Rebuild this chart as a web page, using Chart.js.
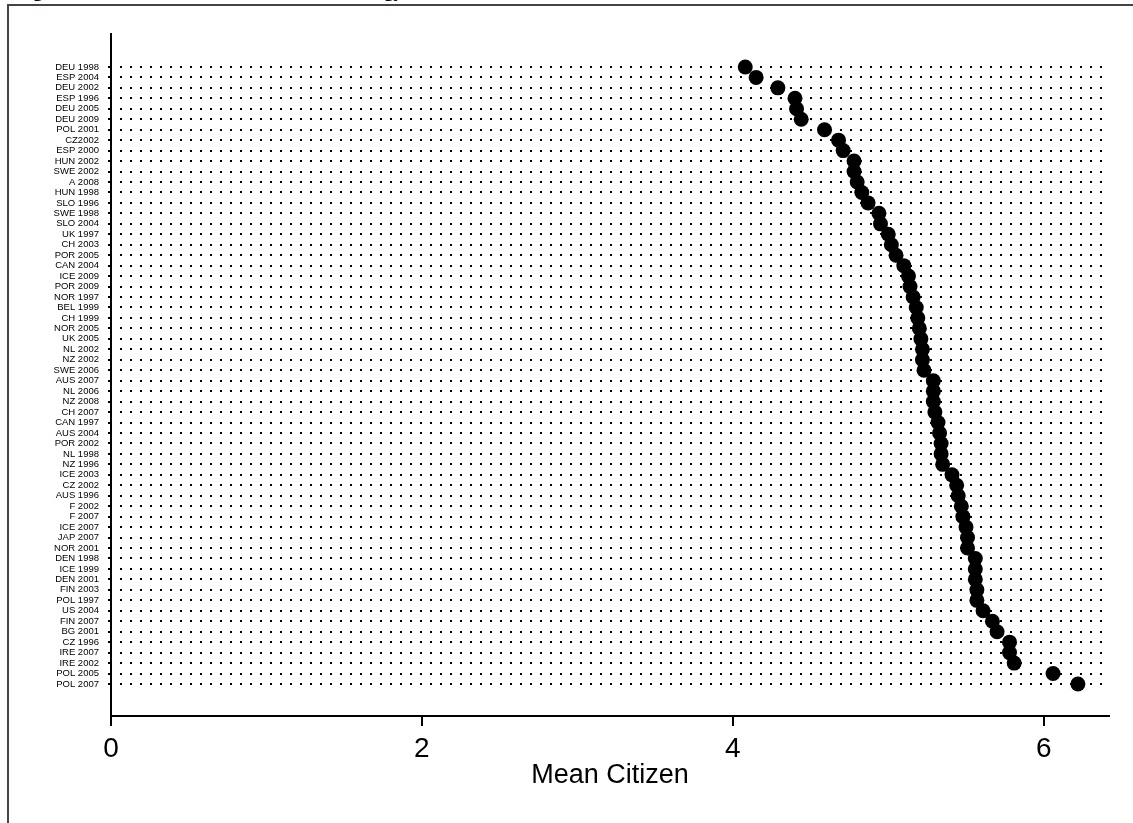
<!DOCTYPE html>
<html>
<head>
<meta charset="utf-8">
<script src="https://cdn.jsdelivr.net/npm/chart.js@4/dist/chart.umd.min.js"></script>
<style>
  html, body { margin: 0; padding: 0; background: #fff; overflow: hidden; }
  #page { position: relative; width: 1133px; height: 823px; overflow: hidden; }
  #frame { position: absolute; left: 7px; top: 4px; width: 1200px; height: 900px;
           border-top: 2px solid #444; border-left: 2px solid #444; }
  #title { position: absolute; left: 16px; top: -20px; line-height: 19px; white-space: nowrap;
           font: bold 19px "Liberation Serif", "Times New Roman", serif; color: #000; }
  #chart { position: absolute; left: 0; top: 0; }
</style>
</head>
<body>
<div id="page">
  <div id="frame"></div>
  <div id="title">Figure 1: Distribution of Mean Citizen Ideology</div>
  <canvas id="chart" width="1133" height="823"></canvas>
</div>
<script>
// --- DATA ---
const rowLabels = [
  "DEU 1998", "ESP 2004", "DEU 2002", "ESP 1996", "DEU 2005", "DEU 2009", "POL 2001", "CZ2002",
  "ESP 2000", "HUN 2002", "SWE 2002", "A 2008", "HUN 1998", "SLO 1996", "SWE 1998", "SLO 2004",
  "UK 1997", "CH 2003", "POR 2005", "CAN 2004", "ICE 2009", "POR 2009", "NOR 1997", "BEL 1999",
  "CH 1999", "NOR 2005", "UK 2005", "NL 2002", "NZ 2002", "SWE 2006", "AUS 2007", "NL 2006",
  "NZ 2008", "CH 2007", "CAN 1997", "AUS 2004", "POR 2002", "NL 1998", "NZ 1996", "ICE 2003",
  "CZ 2002", "AUS 1996", "F 2002", "F 2007", "ICE 2007", "JAP 2007", "NOR 2001", "DEN 1998",
  "ICE 1999", "DEN 2001", "FIN 2003", "POL 1997", "US 2004", "FIN 2007", "BG 2001", "CZ 1996",
  "IRE 2007", "IRE 2002", "POL 2005", "POL 2007"
];

const meanCitizen = [
  4.08, 4.15, 4.29, 4.40, 4.41, 4.44, 4.59, 4.68,
  4.71, 4.78, 4.78, 4.80, 4.83, 4.87, 4.94, 4.95,
  5.00, 5.02, 5.05, 5.10, 5.13, 5.14, 5.16, 5.18,
  5.19, 5.20, 5.21, 5.22, 5.22, 5.23, 5.29, 5.29,
  5.29, 5.30, 5.32, 5.33, 5.34, 5.34, 5.35, 5.41,
  5.44, 5.45, 5.47, 5.48, 5.50, 5.51, 5.51, 5.56,
  5.56, 5.56, 5.57, 5.57, 5.61, 5.67, 5.70, 5.78,
  5.78, 5.81, 6.06, 6.22
];

const xTicks = [0, 2, 4, 6];

// --- CHART ---
const points = meanCitizen.map((v, i) => ({ x: v, y: i + 1 }));
const sans = '"Liberation Sans", Arial, Helvetica, sans-serif';

new Chart(document.getElementById('chart'), {
  type: 'scatter',
  data: {
    datasets: [{
      data: points,
      backgroundColor: '#000',
      borderColor: '#000',
      borderWidth: 0,
      pointRadius: 7.5,
      pointHoverRadius: 7.5
    }]
  },
  options: {
    responsive: false,
    animation: false,
    events: [],
    layout: { padding: { top: 34, right: 24, left: 0, bottom: 0 } },
    plugins: { legend: { display: false }, tooltip: { enabled: false } },
    scales: {
      x: {
        type: 'linear',
        min: 0,
        max: 6.42,
        afterBuildTicks: (scale) => { scale.ticks = xTicks.map(v => ({ value: v })); },
        afterFit: (scale) => { scale.height = 107; },
        grid: { drawOnChartArea: false, drawTicks: true, tickLength: 10, color: '#000', lineWidth: 2 },
        border: { display: true, color: '#000', width: 2 },
        ticks: { color: '#000', font: { family: sans, size: 28 }, padding: 6, maxRotation: 0 },
        title: {
          display: true, text: 'Mean Citizen', color: '#000',
          font: { family: sans, size: 27 }, padding: { top: 0, bottom: 31 }
        }
      },
      y: {
        type: 'linear',
        reverse: true,
        min: -2.15,
        max: 63.06,
        afterBuildTicks: (scale) => { scale.ticks = rowLabels.map((_, i) => ({ value: i + 1 })); },
        afterFit: (scale) => { scale.width = 111; },
        grid: { color: '#000', lineWidth: 2, drawTicks: true, tickLength: 3 },
        border: { display: true, color: '#000', width: 2, dash: [2, 8], dashOffset: 2 },
        ticks: {
          autoSkip: false,
          color: '#000',
          padding: 9,
          font: { family: sans, size: 9.5 },
          callback: (v) => rowLabels[v - 1] || ''
        }
      }
    }
  }
});
</script>
</body>
</html>
